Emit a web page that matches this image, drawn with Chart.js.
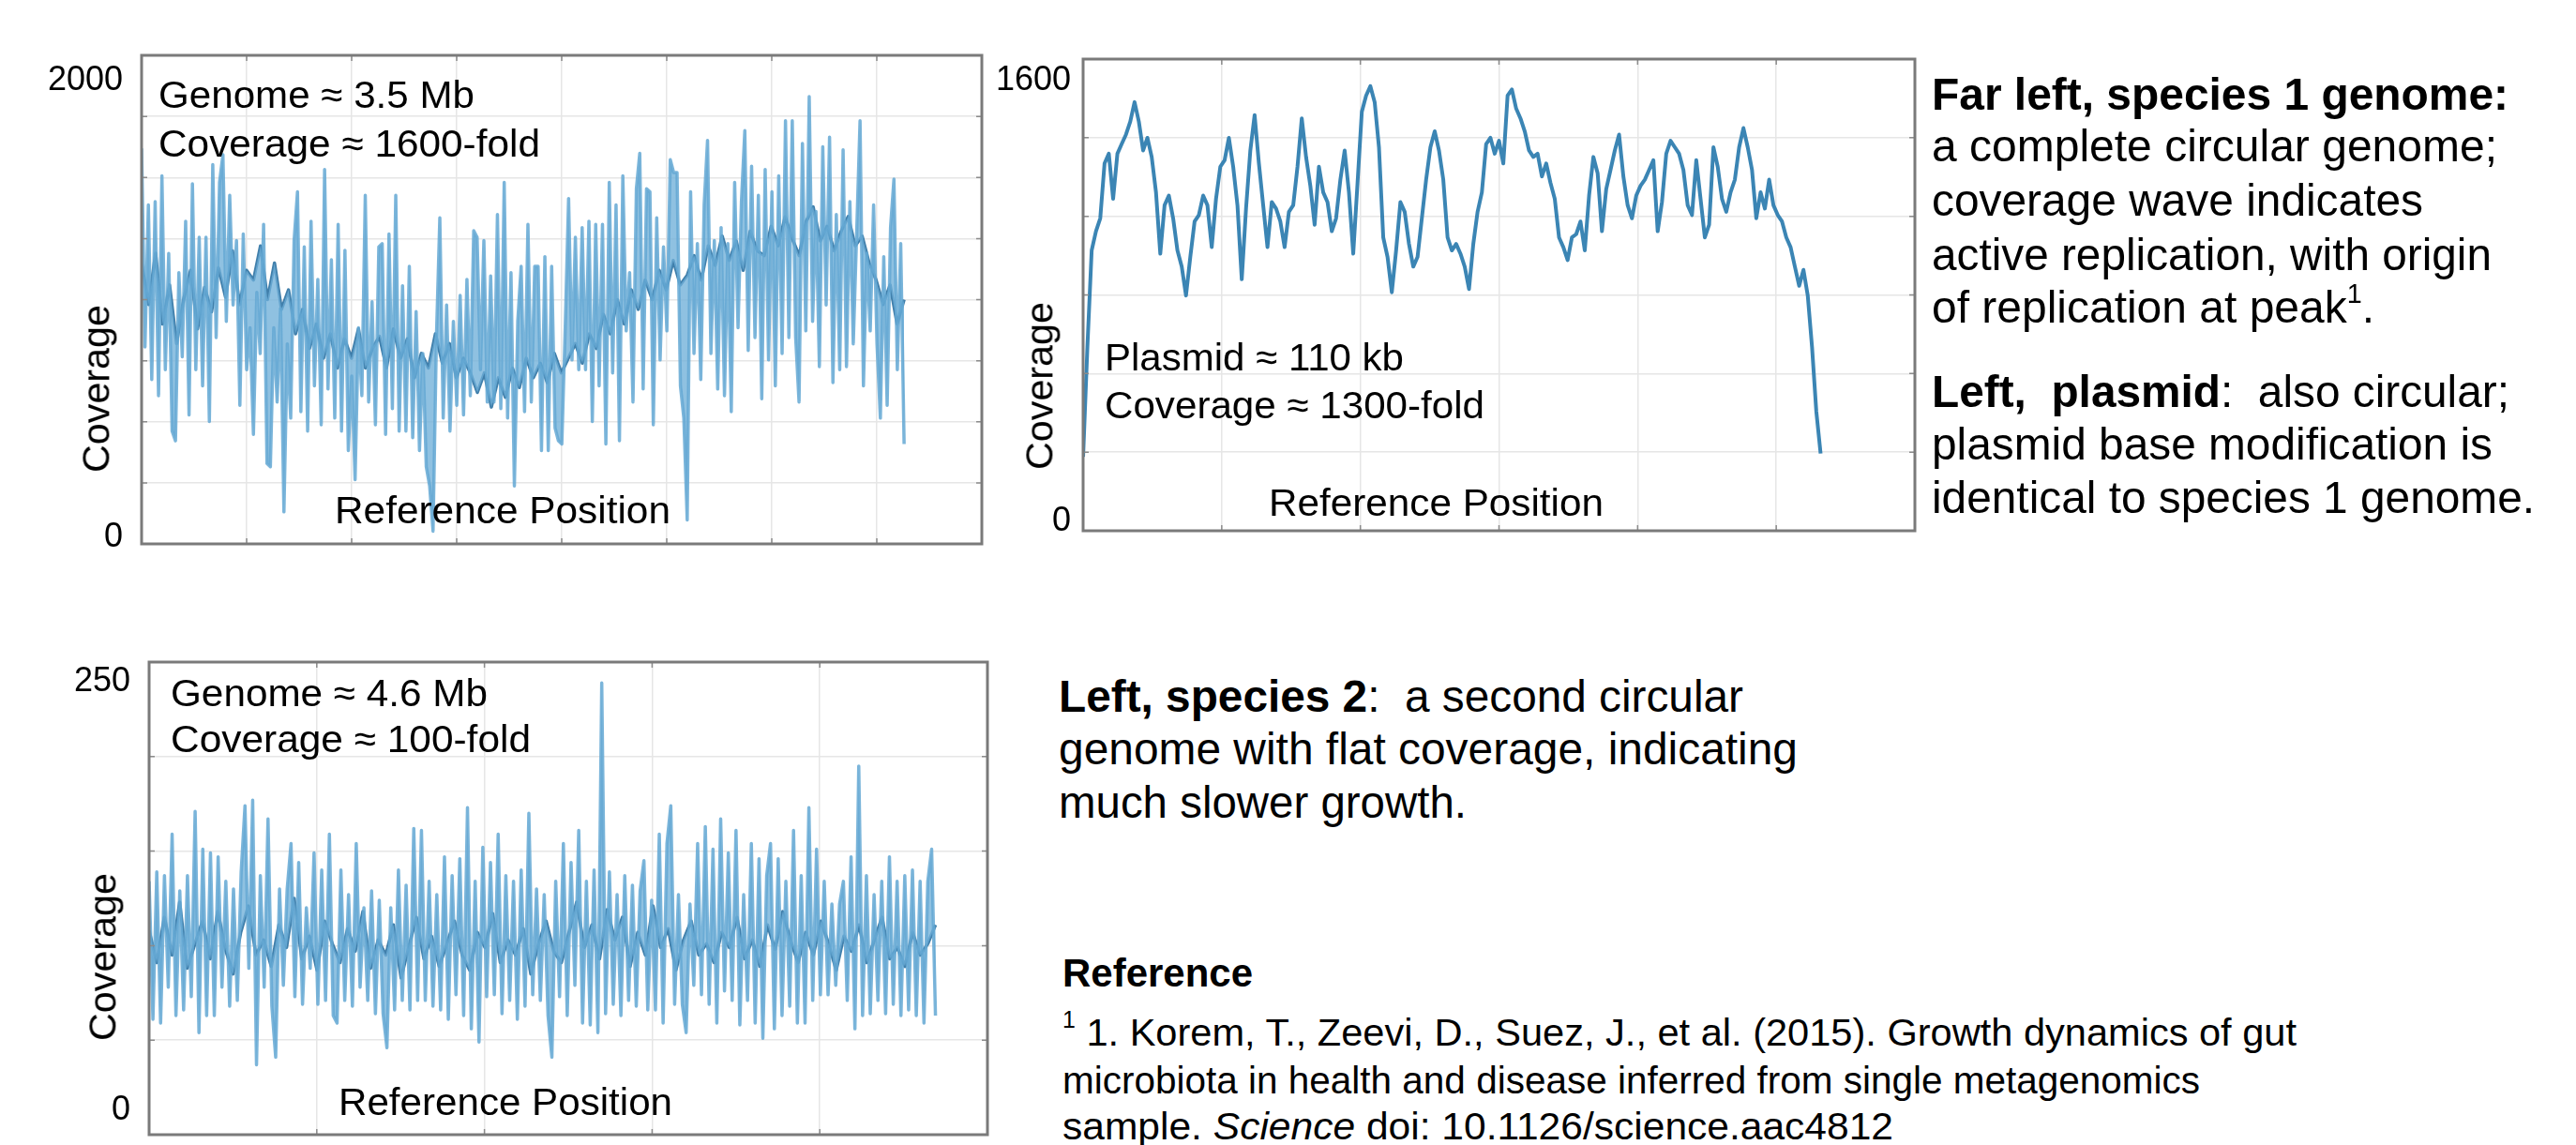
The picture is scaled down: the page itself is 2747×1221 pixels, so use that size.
<!DOCTYPE html>
<html>
<head>
<meta charset="utf-8">
<script src="https://cdn.jsdelivr.net/npm/chart.js@4.4.0/dist/chart.umd.min.js"></script>
<style>
  html, body { margin: 0; padding: 0; background: #fff; }
  #page { position: relative; width: 2747px; height: 1221px; overflow: hidden;
          font-family: "Liberation Sans", Arial, sans-serif; color: #000; }
  canvas { position: absolute; }
  .t { position: absolute; white-space: pre; line-height: 1; transform-origin: 0 0; }
  .sup { font-size: 60%; position: relative; top: -0.75em; }
</style>
</head>
<body>
<div id="page">
  <canvas id="genome1"></canvas>
  <canvas id="plasmid"></canvas>
  <canvas id="genome2"></canvas>
</div>
<script>
// species 1 genome coverage: raw (light band) and running mean (dark line)
const genome1Raw = [1619, 806, 1388, 673, 1401, 607, 1507, 713, 1189, 462, 422, 1110, 766, 1321, 528, 1474, 713, 1255, 647, 1255,
  501, 1553, 845, 1480, 1593, 911, 1427, 978, 1242, 567, 1269, 713, 885, 448, 1030, 779, 1308, 329, 316, 885,
  581, 964, 131, 819, 515, 1242, 1441, 541, 1216, 462, 1321, 647, 1083, 488, 1533, 634, 1163, 515, 1308, 462,
  1202, 382, 687, 263, 885, 607, 1427, 581, 991, 488, 1216, 1229, 448, 1269, 554, 1427, 462, 1057, 462, 1136,
  435, 951, 382, 779, 316, 237, 52, 845, 1335, 515, 978, 462, 911, 567, 1017, 528, 1083, 607, 1282, 1255,
  713, 1242, 581, 1097, 581, 1348, 554, 1480, 515, 1110, 237, 911, 1136, 541, 1308, 581, 1136,
  1136, 382, 1176, 382, 1136, 475, 422, 409, 885, 1414, 753, 1255, 713, 1295, 713, 1321, 501, 1308, 647, 1308,
  409, 1480, 700, 1388, 422, 1507, 872, 1110, 581, 1454, 1599, 634, 1454, 1441, 488, 1335, 753, 1216, 872, 1573,
  1520, 1520, 647, 515, 98, 1441, 779, 1229, 673, 1388, 1652, 779, 1242, 634, 1295, 607, 1229, 541, 1480, 885,
  1401, 1692, 792, 1546, 845, 1427, 594, 1533, 753, 1441, 647, 1507, 779, 1732, 845, 1732, 845, 581, 1639, 872,
  1831, 911, 1361, 726, 1626, 978, 1665, 660, 1348, 713, 1613, 726, 1401, 819, 1269, 1732, 647, 1189, 872, 1388,
  819, 515, 1176, 567, 1295, 1493, 713, 1229, 409];
const genome1Mean = [1150, 980, 1190, 900, 1060, 820, 1000, 1120, 880, 1050, 950,
  1130, 1010, 1200, 980, 1120, 1080, 1220, 1000, 1150, 960,
  1040, 860, 960, 800, 900, 760, 860, 720, 840, 760, 880, 720,
  800, 850, 720, 880, 760, 840, 680, 780, 720, 860, 740, 820, 680, 760, 700,
  620, 700, 560, 680, 600, 720, 640, 760, 680, 740, 660, 780, 700, 760,
  820, 740, 860, 800,
  940, 860, 1000, 900, 1040, 960, 1080, 1000,
  1120, 1040, 1160, 1060, 1100, 1180, 1080,
  1220, 1140, 1260, 1160, 1240, 1120, 1280, 1200, 1180,
  1300, 1220, 1340, 1250, 1180, 1320, 1380, 1240, 1300, 1200, 1280, 1340, 1220, 1260, 1150,
  1080, 980, 1060, 900, 1000];

// plasmid coverage
const plasmidCov = [251, 623, 951, 1016, 1060, 1246, 1279, 1126, 1279, 1312, 1344, 1388, 1454, 1388, 1290, 1333, 1268, 1148, 940, 1104,
  1137, 1060, 951, 896, 798, 929, 1049, 1071, 1137, 1104, 962, 1126, 1235, 1257, 1333, 1235, 1104, 853, 1093, 1290,
  1410, 1246, 1104, 962, 1115, 1093, 1049, 962, 1082, 1104, 1235, 1399, 1268, 1170, 1038, 1235, 1148, 1115, 1016, 1060,
  1191, 1290, 1148, 940, 1180, 1421, 1476, 1508, 1454, 1301, 995, 929, 809, 951, 1115, 1082, 973, 896, 929, 1060,
  1191, 1301, 1355, 1290, 1191, 995, 951, 973, 940, 896, 820, 973, 1082, 1148, 1312, 1333, 1279, 1323, 1246, 1476,
  1497, 1432, 1399, 1355, 1290, 1268, 1279, 1202, 1246, 1180, 1126, 995, 962, 918, 995, 1006, 1049, 951, 1137, 1268,
  1213, 1016, 1159, 1224, 1290, 1344, 1202, 1104, 1060, 1137, 1170, 1191, 1224, 1257, 1016, 1115, 1279, 1323, 1301, 1279,
  1224, 1104, 1071, 1257, 1126, 995, 1038, 1301, 1235, 1126, 1082, 1148, 1191, 1301, 1366, 1301, 1224, 1060, 1148, 1093,
  1191, 1104, 1071, 1049, 995, 962, 896, 831, 885, 798, 623, 404, 262];

// species 2 genome coverage
const genome2Raw = [134, 61, 139, 59, 137, 78, 159, 63, 129, 66, 137, 73, 171, 54, 151, 63, 149, 63, 147, 78,
  134, 68, 130, 71, 139, 174, 88, 177, 37, 137, 78, 167, 68, 41, 130, 79, 130, 154, 73, 144,
  69, 120, 88, 149, 69, 140, 71, 159, 63, 59, 140, 71, 127, 68, 154, 78, 120, 71, 129, 64,
  124, 64, 46, 120, 66, 140, 71, 132, 66, 162, 71, 161, 71, 134, 68, 127, 66, 147, 61, 137,
  74, 146, 63, 173, 56, 134, 49, 152, 73, 144, 74, 159, 64, 137, 71, 134, 61, 140, 68, 170,
  74, 130, 71, 127, 63, 41, 134, 73, 154, 63, 144, 79,
  161, 59, 134, 58, 140, 54, 239, 64, 139, 69, 127, 63, 137, 71, 132, 68, 129, 145, 66, 124,
  66, 159, 59, 154, 174, 69, 127, 69, 54, 122, 79, 154, 74, 163, 69, 151, 59, 167, 76, 149,
  71, 161, 58, 127, 71, 154, 59, 146, 51, 137, 154, 56, 146, 63, 134, 68, 161, 59, 137, 59,
  173, 71, 151, 74, 134, 74, 122, 79, 122, 134, 71, 147, 56, 195, 63, 137, 64, 127, 71, 134,
  64, 147, 69, 134, 63, 137, 66, 140, 63, 134, 59, 134, 151, 63];
const genome2Mean = [108, 91, 115, 95, 123, 88, 101, 113, 93, 118, 98, 85, 107, 121, 95, 103, 89, 111, 99, 125,
  93, 105, 87, 113, 101, 91, 109, 97, 118, 88, 103, 95, 111, 83, 99, 115, 93, 105, 89, 101,
  113, 95, 87, 107, 99, 117, 91, 103, 95, 109, 85, 101, 113, 97, 91, 107, 123, 99, 111, 93,
  119, 103, 115, 89, 107, 95, 121, 99, 109, 87, 103, 113, 95, 101, 91, 107, 99, 115, 93, 103,
  89, 111, 98, 118, 103, 91, 107, 95, 113, 101, 87, 105, 97, 111, 91, 103, 115, 93, 99, 89,
  107, 95, 101, 111];

// reference span covered by each trace (axis units: Mb, kb, Mb)
const span1 = 3.63, span2 = 106.4, span3 = 4.69;
const yTicks1 = [0, 2000], yTicks2 = [0, 1600], yTicks3 = [0, 250];

const page = document.getElementById("page");

function toPoints(vals, span) {
  return vals.map((v, i) => ({ x: i * span / (vals.length - 1), y: v }));
}

const framePlugin = {
  id: "frame",
  afterDatasetsDraw(chart, args, opts) {
    const { ctx, chartArea: a, scales } = chart;
    ctx.save();
    ctx.strokeStyle = "#8c8c8c";
    ctx.lineWidth = 1.5;
    ctx.beginPath();
    for (const t of scales.x.ticks) {
      const px = scales.x.getPixelForValue(t.value);
      ctx.moveTo(px, a.top); ctx.lineTo(px, a.top + 6);
      ctx.moveTo(px, a.bottom); ctx.lineTo(px, a.bottom - 6);
    }
    for (const t of scales.y.ticks) {
      const py = scales.y.getPixelForValue(t.value);
      ctx.moveTo(a.left, py); ctx.lineTo(a.left + 6, py);
      ctx.moveTo(a.right, py); ctx.lineTo(a.right - 6, py);
    }
    ctx.stroke();
    ctx.strokeStyle = "#7a7a7a";
    ctx.lineWidth = 3;
    ctx.strokeRect(a.left, a.top, a.right - a.left, a.bottom - a.top);

    ctx.fillStyle = "#000";
    ctx.font = '36px "Liberation Sans", Arial, sans-serif';
    ctx.textAlign = "right";
    ctx.textBaseline = "middle";
    for (const v of opts.labels) {
      const y = scales.y.getPixelForValue(v) + (v === scales.y.max ? opts.dyTop : opts.dyBottom);
      ctx.fillText(String(v), a.left - opts.gap, y);
    }
    ctx.restore();
  }
};

function makeChart(id, box, datasets, xAxis, yTicks, frame) {
  const cv = document.getElementById(id);
  const pad = { left: 130, top: 30, right: 20, bottom: 20 };
  cv.width = box.r - box.l + pad.left + pad.right;
  cv.height = box.b - box.t + pad.top + pad.bottom;
  cv.style.left = (box.l - pad.left) + "px";
  cv.style.top = (box.t - pad.top) + "px";
  const grid = { color: "#e6e6e6", lineWidth: 1.5, drawTicks: false };
  return new Chart(cv, {
    type: "line",
    data: { datasets: datasets },
    options: {
      responsive: false,
      animation: false,
      devicePixelRatio: 1,
      layout: { padding: pad },
      elements: { point: { radius: 0 }, line: { tension: 0, borderJoinStyle: "round" } },
      plugins: { legend: { display: false }, tooltip: { enabled: false }, frame: frame },
      scales: {
        x: { type: "linear", min: 0, max: xAxis.max,
             ticks: { display: false, stepSize: xAxis.step }, grid: grid, border: { display: false } },
        y: { type: "linear", min: 0, max: yTicks.max,
             ticks: Object.assign({ display: false }, yTicks.ticks), grid: grid, border: { display: false } }
      }
    },
    plugins: [framePlugin]
  });
}

const lightLine = "rgba(100,168,212,0.85)";
const lightFill = "rgba(112,176,216,0.78)";
const darkBlue = "rgba(30,104,156,0.85)";

makeChart("genome1", { l: 151, t: 59, r: 1047, b: 580 }, [
  { data: toPoints(genome1Raw, span1), borderColor: lightLine, borderWidth: 3.5,
    backgroundColor: lightFill, fill: 1 },
  { data: toPoints(genome1Mean, span1), borderColor: darkBlue, borderWidth: 3.5 }
], { max: 4, step: 0.5 }, { max: 2000, ticks: { stepSize: 250 } },
  { labels: yTicks1, gap: 20, dyTop: 27, dyBottom: -7 });

makeChart("plasmid", { l: 1155, t: 63, r: 2042, b: 566 }, [
  { data: toPoints(plasmidCov, span2), borderColor: "rgba(48,126,176,0.95)", borderWidth: 4 }
], { max: 120, step: 20 }, { max: 1600, ticks: { count: 7 } },
  { labels: yTicks2, gap: 13, dyTop: 23, dyBottom: -10 });

makeChart("genome2", { l: 159, t: 706, r: 1053, b: 1210 }, [
  { data: toPoints(genome2Raw, span3), borderColor: lightLine, borderWidth: 3.5,
    backgroundColor: lightFill, fill: 1 },
  { data: toPoints(genome2Mean, span3), borderColor: darkBlue, borderWidth: 3.5 }
], { max: 5, step: 1 }, { max: 250, ticks: { stepSize: 50 } },
  { labels: yTicks3, gap: 20, dyTop: 21, dyBottom: -26 });

// text: html, left x, baseline y, font size, target width
function addText(html, x, base, size, width, weight) {
  const d = document.createElement("div");
  d.className = "t";
  d.innerHTML = html;
  d.style.fontSize = size + "px";
  if (weight) d.style.fontWeight = weight;
  d.style.left = x + "px";
  d.style.top = (base - 0.8465 * size) + "px";
  page.appendChild(d);
  const w = d.getBoundingClientRect().width;
  d.style.transform = "scaleX(" + (width / w) + ")";
}

function addVText(text, cx, cy, size, length) {
  const d = document.createElement("div");
  d.className = "t";
  d.textContent = text;
  d.style.fontSize = size + "px";
  page.appendChild(d);
  const w = d.getBoundingClientRect().width;
  d.style.left = (cx - w / 2) + "px";
  d.style.top = (cy - size / 2) + "px";
  d.style.transformOrigin = "50% 50%";
  d.style.transform = "rotate(-90deg) scaleX(" + (length / w) + ")";
}

// chart annotations
addText("Genome \u2248 3.5 Mb", 169, 116, 41, 337);
addText("Coverage \u2248 1600-fold", 169, 168, 41, 407);
addText("Reference Position", 357, 559, 41, 358);
addVText("Coverage", 103, 414, 41, 179);

addText("Plasmid \u2248 110 kb", 1178, 396, 41, 319);
addText("Coverage \u2248 1300-fold", 1178, 447, 41, 405);
addText("Reference Position", 1353, 551, 41, 357);
addVText("Coverage", 1109, 411, 41, 179);

addText("Genome \u2248 4.6 Mb", 182, 754, 41, 338);
addText("Coverage \u2248 100-fold", 182, 803, 41, 384);
addText("Reference Position", 361, 1190, 41, 356);
addVText("Coverage", 110, 1020, 41, 179);

// right-hand notes
addText("Far left, species 1 genome:", 2060, 118, 48, 615, "bold");
addText("a complete circular genome;", 2060, 173, 48, 603);
addText("coverage wave indicates", 2060, 231, 48, 524);
addText("active replication, with origin", 2060, 289, 48, 597);
addText('of replication at peak<span class="sup">1</span>.', 2060, 345, 48, 472);
addText("<b>Left,&nbsp; plasmid</b>:&nbsp; also circular;", 2060, 435, 48, 616);
addText("plasmid base modification is", 2060, 491, 48, 598);
addText("identical to species 1 genome.", 2060, 548, 48, 643);

addText("<b>Left, species 2</b>:&nbsp; a second circular", 1129, 760, 48, 730);
addText("genome with flat coverage, indicating", 1129, 816, 48, 788);
addText("much slower growth.", 1129, 873, 48, 435);

addText("Reference", 1133, 1053, 42, 203, "bold");
addText('<span class="sup">1</span> 1. Korem, T., Zeevi, D., Suez, J., et al. (2015). Growth dynamics of gut', 1133, 1115, 41.5, 1316);
addText("microbiota in health and disease inferred from single metagenomics", 1133, 1166, 41.5, 1213);
addText("sample. <i>Science</i> doi: 10.1126/science.aac4812", 1133, 1215, 41.5, 886);
</script>
</body>
</html>
